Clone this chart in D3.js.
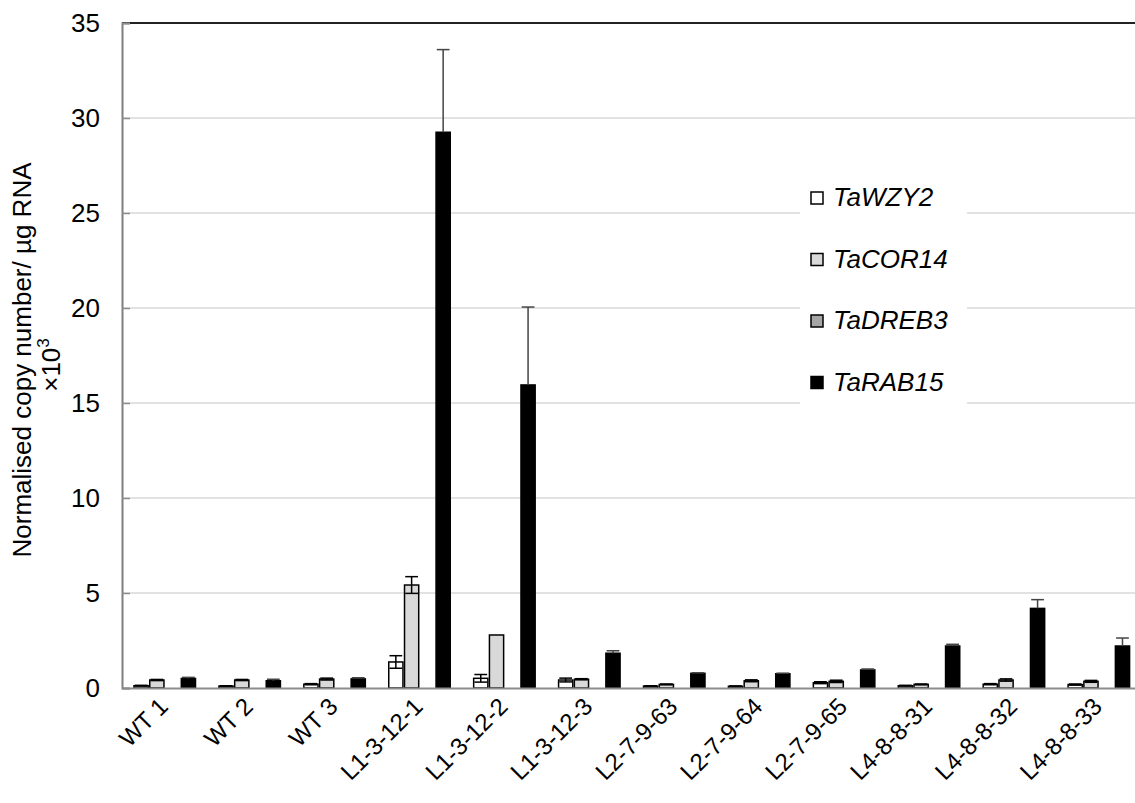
<!DOCTYPE html>
<html>
<head>
<meta charset="UTF-8">
<title>Normalised copy number</title>
<script src="https://d3js.org/d3.v7.min.js"></script>
<style>
    body { margin: 0; background: #fff; }
    svg { display: block; font-family: "Liberation Sans", Arial, sans-serif; }
</style>
</head>
<body>
<svg id="chart" width="1135" height="803"></svg>
<script>
    // 数据
    const lines = ["WT 1", "WT 2", "WT 3", "L1-3-12-1", "L1-3-12-2", "L1-3-12-3",
        "L2-7-9-63", "L2-7-9-64", "L2-7-9-65", "L4-8-8-31", "L4-8-8-32", "L4-8-8-33"];
    const genes = ["TaWZY2", "TaCOR14", "TaDREB3", "TaRAB15"];

    const wzy2 = [0.12, 0.10, 0.20, 1.37, 0.51, 0.42, 0.10, 0.09, 0.28, 0.12, 0.20, 0.18];
    const cor14 = [0.42, 0.42, 0.47, 5.42, 2.79, 0.46, 0.19, 0.38, 0.35, 0.19, 0.42, 0.35];
    const dreb3 = [0, 0, 0, 0, 0, 0, 0, 0, 0, 0, 0, 0];
    const rab15 = [0.50, 0.38, 0.48, 29.25, 15.95, 1.83, 0.77, 0.75, 0.95, 2.21, 4.19, 2.21];

    const wzy2Err = [0.02, 0.02, 0.03, 0.33, 0.20, 0.10, 0.02, 0.02, 0.05, 0.02, 0.03, 0.03];
    const cor14Err = [0.03, 0.03, 0.05, 0.44, 0, 0.03, 0.02, 0.05, 0.06, 0.02, 0.06, 0.05];
    const dreb3Err = [0, 0, 0, 0, 0, 0, 0, 0, 0, 0, 0, 0];
    const rab15Err = [0.06, 0.08, 0.06, 4.35, 4.10, 0.13, 0.03, 0.03, 0.05, 0.09, 0.46, 0.42];

    const yTicks = [0, 5, 10, 15, 20, 25, 30, 35];

    const values = [wzy2, cor14, dreb3, rab15];
    const errors = [wzy2Err, cor14Err, dreb3Err, rab15Err];
    const fills = ["#ffffff", "#d9d9d9", "#a6a6a6", "#000000"];

    const svg = d3.select("#chart");
    const mLeft = 122, mRight = 1141, mTop = 23, mBottom = 688;

    const x0 = d3.scaleBand().domain(lines).range([mLeft, mRight]).padding(0);
    const x1 = d3.scaleBand().domain(genes).range([12, 73.5]).paddingInner(0.1);
    const y = d3.scaleLinear().domain([0, 35]).range([mBottom, mTop]);

    // 网格线
    svg.append("g")
        .selectAll("line")
        .data(yTicks.filter(d => d > 0 && d < 35))
        .join("line")
        .attr("x1", mLeft).attr("x2", 1135)
        .attr("y1", d => y(d)).attr("y2", d => y(d))
        .attr("stroke", "#d9d9d9").attr("stroke-width", 1.5);

    // 顶部边线
    svg.append("line")
        .attr("x1", mLeft).attr("x2", 1135)
        .attr("y1", y(35)).attr("y2", y(35))
        .attr("stroke", "#222").attr("stroke-width", 2);

    // 图例背景 (遮住网格线)
    svg.append("rect")
        .attr("x", 800).attr("y", 168).attr("width", 167).attr("height", 240)
        .attr("fill", "#fff");

    // 柱子
    const groups = svg.append("g")
        .selectAll("g")
        .data(lines)
        .join("g")
        .attr("transform", d => `translate(${x0(d)},0)`);

    genes.forEach((gene, gi) => {
        groups.append("rect")
            .attr("x", x1(gene))
            .attr("width", x1.bandwidth())
            .attr("y", (d, i) => y(values[gi][i]))
            .attr("height", (d, i) => mBottom - y(values[gi][i]))
            .attr("fill", fills[gi])
            .attr("stroke", "#000")
            .attr("stroke-width", 1.5)
            .style("display", (d, i) => values[gi][i] > 0 ? null : "none");
    });

    // 误差线 (黑色柱子里面的下半段看不见)
    genes.forEach((gene, gi) => {
        const cx = x1(gene) + x1.bandwidth() / 2;
        const capW = x1.bandwidth() * 0.9;
        const upColor = gi === 3 ? "#444" : "#000";
        const eg = groups.append("g")
            .style("display", (d, i) => errors[gi][i] > 0 ? null : "none")
            .attr("stroke-width", 1.5);
        eg.append("line")
            .attr("stroke", "#000")
            .attr("x1", cx).attr("x2", cx)
            .attr("y1", (d, i) => y(values[gi][i] - errors[gi][i]))
            .attr("y2", (d, i) => y(values[gi][i]));
        eg.append("line")
            .attr("stroke", "#000")
            .attr("x1", cx - capW / 2).attr("x2", cx + capW / 2)
            .attr("y1", (d, i) => y(values[gi][i] - errors[gi][i]))
            .attr("y2", (d, i) => y(values[gi][i] - errors[gi][i]));
        eg.append("line")
            .attr("stroke", upColor)
            .attr("x1", cx).attr("x2", cx)
            .attr("y1", (d, i) => y(values[gi][i]))
            .attr("y2", (d, i) => y(values[gi][i] + errors[gi][i]));
        eg.append("line")
            .attr("stroke", upColor)
            .attr("x1", cx - capW / 2).attr("x2", cx + capW / 2)
            .attr("y1", (d, i) => y(values[gi][i] + errors[gi][i]))
            .attr("y2", (d, i) => y(values[gi][i] + errors[gi][i]));
    });

    // y 轴
    const yAxis = svg.append("g")
        .attr("transform", `translate(${mLeft},0)`)
        .call(d3.axisLeft(y).tickValues(yTicks).tickSize(-8).tickPadding(22));
    yAxis.select(".domain").attr("stroke", "#7f7f7f").attr("stroke-width", 2);
    yAxis.selectAll(".tick line").attr("stroke", "#8c8c8c").attr("stroke-width", 1.5);
    yAxis.selectAll("text").style("font-size", "26px").attr("fill", "#000");

    // x 轴
    const xAxis = svg.append("g")
        .attr("transform", `translate(0,${mBottom})`)
        .call(d3.axisBottom(x0).tickSize(0).tickSizeOuter(0));
    xAxis.select(".domain").attr("stroke", "#8c8c8c").attr("stroke-width", 2);
    xAxis.selectAll("text")
        .style("font-size", "24px")
        .attr("fill", "#000")
        .attr("text-anchor", "end")
        .attr("dy", "0")
        .attr("y", 0)
        .attr("transform", "translate(5,20) rotate(-45)");

    // y 轴标题
    const yTitle = svg.append("text")
        .attr("transform", "translate(31,360) rotate(-90)")
        .attr("text-anchor", "middle")
        .style("font-size", "26px");
    yTitle.append("tspan").attr("x", 0).attr("y", 0).text("Normalised copy number/ µg RNA");
    yTitle.append("tspan").attr("x", -5).attr("y", 29).text("×10");
    yTitle.append("tspan").attr("dy", -11).style("font-size", "17px").text("3");

    // 图例
    const legend = svg.append("g")
        .selectAll("g")
        .data(genes)
        .join("g")
        .attr("transform", (d, i) => `translate(811,${206 + i * 61.5})`);
    legend.append("rect")
        .attr("x", 0).attr("y", -14).attr("width", 12).attr("height", 12)
        .attr("fill", (d, i) => fills[i])
        .attr("stroke", "#000").attr("stroke-width", 1.5);
    legend.append("text")
        .attr("x", 22).attr("y", 0)
        .style("font-size", "26px").style("font-style", "italic")
        .text(d => d);
</script>
</body>
</html>
